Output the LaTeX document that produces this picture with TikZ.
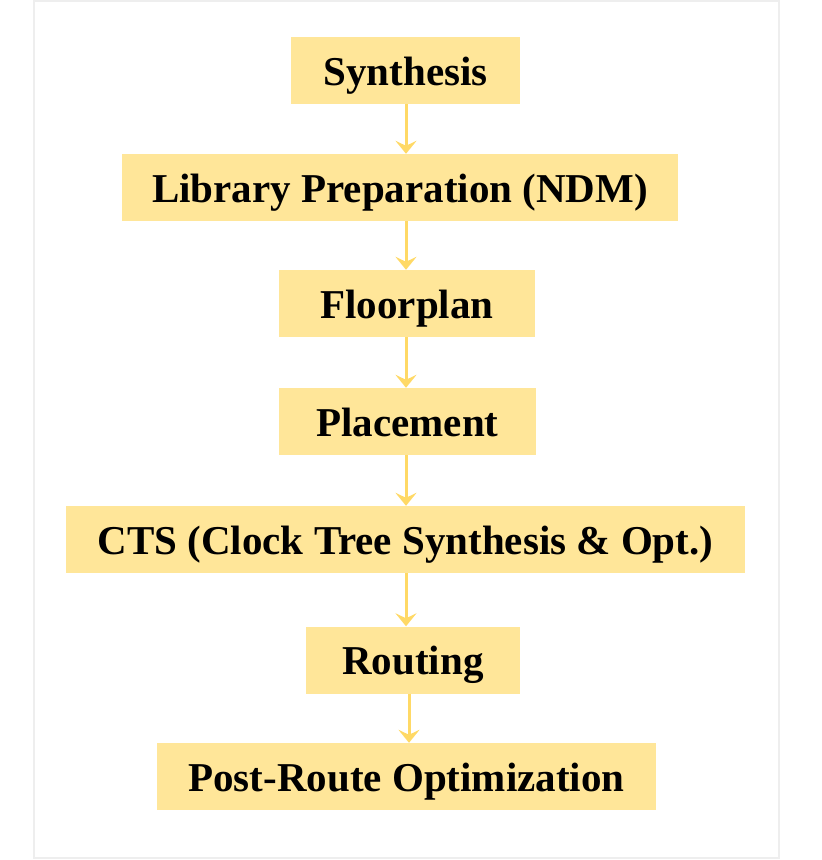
\documentclass[tikz,border=0pt]{standalone}
\usepackage{fontspec}
\setmainfont{Liberation Serif}
\usetikzlibrary{arrows.meta}
\definecolor{stepfill}{HTML}{FFE699}
\definecolor{flowline}{HTML}{FFD966}
\definecolor{framegray}{HTML}{EEEEEE}
\tikzset{
  stepbox/.style={fill=stepfill, draw=none, inner sep=0pt, minimum height=67pt,
    font=\fontsize{41pt}{41pt}\selectfont\bfseries, text height=29pt, text depth=0pt},
  flow/.style={draw=flowline, line width=3pt,
    -{Stealth[length=13pt,width=21pt,inset=5pt]}}
}
\begin{document}
\begin{tikzpicture}[x=1pt,y=-1pt]
  \useasboundingbox (0,0) rectangle (822,860);
  % outer frame
  \draw[framegray, line width=2pt] (34,1) rectangle (779,858);
  % process steps
  \node[stepbox, minimum width=229pt] (syn)   at (405.5,70.5)  {Synthesis};
  \node[stepbox, minimum width=556pt] (lib)   at (400,187.5)   {Library Preparation (NDM)};
  \node[stepbox, minimum width=256pt] (fp)    at (407,303.5)   {Floorplan};
  \node[stepbox, minimum width=257pt] (pl)    at (407.5,421.5) {Placement};
  \node[stepbox, minimum width=679pt] (cts)   at (405.5,539.5) {CTS (Clock Tree Synthesis \& Opt.)};
  \node[stepbox, minimum width=214pt] (rt)    at (413,660)     {Routing};
  \node[stepbox, minimum width=499pt] (prt)   at (406.5,776.5) {Post-Route Optimization};
  % flow axis
  \coordinate (axis) at (406,0);
  \coordinate (axisb) at (409,0);
  \draw[flow] (axis |- syn.south) -- (axis |- lib.north);
  \draw[flow] (axis |- lib.south) -- (axis |- fp.north);
  \draw[flow] (axis |- fp.south)  -- (axis |- pl.north);
  \draw[flow] (axis |- pl.south)  -- (axis |- cts.north);
  \draw[flow] (axis |- cts.south) -- (axis |- rt.north);
  \draw[flow] (axisb |- rt.south) -- (axisb |- prt.north);
\end{tikzpicture}
\end{document}
